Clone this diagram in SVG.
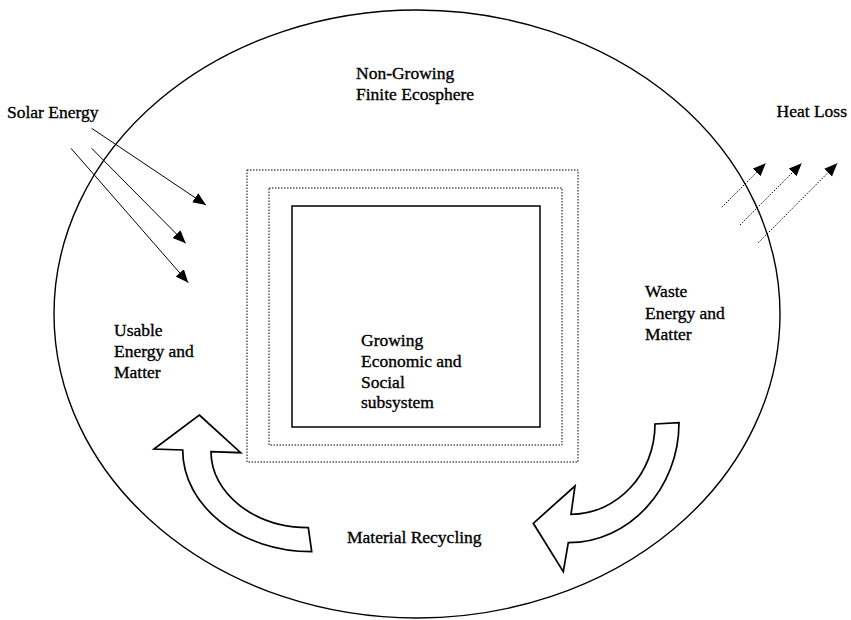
<svg xmlns="http://www.w3.org/2000/svg" width="851" height="620" viewBox="0 0 851 620">
<style>
text{font-family:"Liberation Serif","Times New Roman",serif;font-size:17.5px;fill:#000;stroke:#000;stroke-width:0.35}
.ln{stroke:#000;stroke-width:1;fill:none}
.dot{stroke:#000;stroke-width:1;fill:none;stroke-dasharray:1.5 1.5}
.big{stroke:#000;stroke-width:1.7;fill:#fff;stroke-linejoin:miter}
</style>
<defs>
<marker id="ah" markerUnits="userSpaceOnUse" markerWidth="14" markerHeight="12" refX="13" refY="5.5" orient="auto">
<path d="M0,0 L13,5.5 L0,11 z" fill="#000"/>
</marker>
</defs>
<rect width="851" height="620" fill="#fff"/>
<g id="ecosphere">
<ellipse cx="417" cy="314" rx="363" ry="304" fill="none" stroke="#000" stroke-width="1.4"/>
<text x="356" y="79">Non-Growing</text>
<text x="356" y="100">Finite Ecosphere</text>
</g>
<g id="subsystem">
<rect x="247" y="170" width="331" height="292" class="dot"/>
<rect x="269" y="188" width="293" height="257" class="dot"/>
<rect x="292" y="206" width="248" height="221" fill="none" stroke="#000" stroke-width="1.5"/>
<text x="361" y="346">Growing</text>
<text x="361" y="367">Economic and</text>
<text x="361" y="388">Social</text>
<text x="361" y="408">subsystem</text>
</g>
<g id="solar">
<text x="7" y="118">Solar Energy</text>
</g>
<g id="heat">
<text x="847" y="117" text-anchor="end">Heat Loss</text>
</g>
<g id="usable">
<text x="114" y="336">Usable</text>
<text x="114" y="357">Energy and</text>
<text x="114" y="378">Matter</text>
</g>
<g id="waste">
<text x="645" y="297">Waste</text>
<text x="645" y="319">Energy and</text>
<text x="645" y="340">Matter</text>
</g>
<g id="recycling">
<text x="347" y="543">Material Recycling</text>
<path class="big" d="M199.3,415 L240.7,452.7 L211,451.7 C211,493.5 254.8,527.7 308.3,527.7 L311.7,551.7 C240.7,551.7 182.7,506 182.7,450 L154,449 Z"/>
<path class="big" d="M655,424 C655,473.7 617.2,514.3 571,514.3 L575,486 L533.3,523.3 L563.3,571.7 L568.3,542.7 C629.2,542.7 679,488.7 679,422.7 Z"/>
</g>
<g id="connectors">
<line class="ln" x1="91.7" y1="128.3" x2="206" y2="205" marker-end="url(#ah)"/>
<line class="ln" x1="91.7" y1="148.3" x2="185.7" y2="243.3" marker-end="url(#ah)"/>
<line class="ln" x1="71" y1="148.3" x2="188.3" y2="282.7" marker-end="url(#ah)"/>
<line class="dot" x1="721.7" y1="207.3" x2="765.7" y2="163.3" marker-end="url(#ah)"/>
<line class="dot" x1="740" y1="225" x2="801.7" y2="163.3" marker-end="url(#ah)"/>
<line class="dot" x1="758.3" y1="242.7" x2="837.3" y2="163.3" marker-end="url(#ah)"/>
</g>
</svg>
